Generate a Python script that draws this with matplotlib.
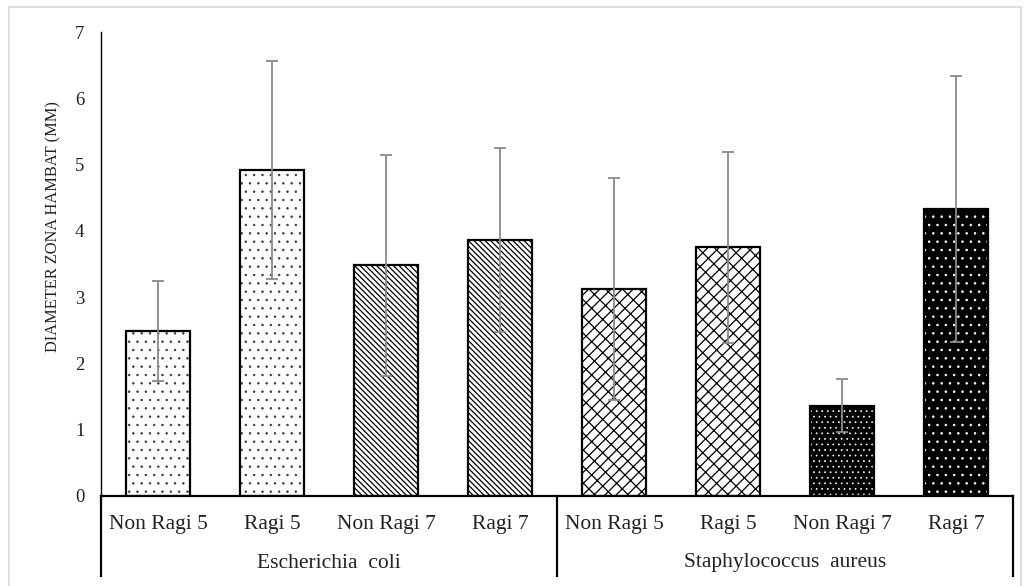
import matplotlib
matplotlib.use("Agg")
import matplotlib.pyplot as plt
import matplotlib.transforms as mtransforms
from matplotlib.lines import Line2D
import numpy as np

categories = ["Non Ragi 5", "Ragi 5", "Non Ragi 7", "Ragi 7",
              "Non Ragi 5", "Ragi 5", "Non Ragi 7", "Ragi 7"]
groups = ["Escherichia  coli", "Staphylococcus  aureus"]
values = [2.49, 4.92, 3.48, 3.86, 3.12, 3.75, 1.36, 4.33]
errors = [0.75, 1.64, 1.67, 1.39, 1.67, 1.44, 0.40, 2.01]
ylabel = "DIAMETER ZONA HAMBAT (MM)"

BS = chr(92)
hatches = ["..", "..", BS * 6, BS * 6, "/xx", "/xx", "...", ".."]
faces = ["white", "white", "white", "white", "white", "white", "black", "black"]
hatch_cols = ["#333333", "#333333", "black", "black", "black", "black", "white", "white"]
hatch_lws = [0.5, 0.5, 0.9, 0.9, 0.9, 0.9, 0.5, 0.6]

plt.rcParams['font.family'] = ['Liberation Serif', 'DejaVu Serif']

W, H = 1029, 586
fig = plt.figure(figsize=(W / 100, H / 100), dpi=100)

# light gray border
fig.add_artist(Line2D([9 / W, 9 / W], [0, 1 - 7 / H], color="#d9d9d9", lw=1.2))
fig.add_artist(Line2D([9 / W, 1021 / W], [1 - 7 / H, 1 - 7 / H], color="#d9d9d9", lw=1.2))
fig.add_artist(Line2D([1021 / W, 1021 / W], [0, 1 - 7 / H], color="#d9d9d9", lw=1.2))

ax_l, ax_r, ax_t, ax_b = 101, 1013, 32, 496
ax = fig.add_axes([ax_l / W, 1 - ax_b / H, (ax_r - ax_l) / W, (ax_b - ax_t) / H])

x = np.arange(len(values))
width = 0.57
for i in range(len(values)):
    plt.rcParams['hatch.linewidth'] = hatch_lws[i]
    b = ax.bar(x[i], values[i], width=width, color=faces[i], edgecolor=hatch_cols[i],
               hatch=hatches[i], linewidth=0, zorder=2)
    for p in b.patches:
        if hasattr(p, "set_hatch_linewidth"):
            p.set_hatch_linewidth(hatch_lws[i])
    ax.bar(x[i], values[i], width=width, facecolor="none", edgecolor="black",
           linewidth=1.6, zorder=3)

ax.errorbar(x, values, yerr=errors, fmt="none", ecolor="#8a8a8a",
            elinewidth=1.3, capsize=4.3, capthick=1.3, zorder=4)

ax.set_xlim(-0.5, len(values) - 0.5)
ax.set_ylim(0, 7)
ax.set_yticks(range(8))
ax.tick_params(axis="y", length=0, pad=12, labelsize=13.5, colors="#222222")
ax.set_xticks([])
for s in ["top", "right"]:
    ax.spines[s].set_visible(False)
ax.spines["left"].set_linewidth(1.0)
ax.spines["bottom"].set_linewidth(1.6)

trans = mtransforms.blended_transform_factory(ax.transData, ax.transAxes)
axh = ax_b - ax_t
cat_y = -(525 - ax_b) / axh
grp_y = -(563 - ax_b) / axh
line_bot = -(576 - ax_b) / axh
for i, c in enumerate(categories):
    ax.text(x[i], cat_y, c, transform=trans, ha="center", va="center",
            fontsize=15.5, color="#222222")
n_per = len(categories) // len(groups)
for g, name in enumerate(groups):
    cx = (g * n_per + (g + 1) * n_per - 1) / 2
    ax.text(cx, grp_y, name, transform=trans, ha="center", va="center",
            fontsize=15.5, color="#222222")
for xv in [-0.5, n_per - 0.5, len(categories) - 0.5]:
    ax.add_line(Line2D([xv, xv], [0, line_bot], transform=trans, color="black",
                       lw=1.6, clip_on=False))

fig.text(53 / W, 1 - 227 / H, ylabel, rotation=90, ha="center", va="center",
         fontsize=11.8, color="#222222")

fig.savefig("out.png", dpi=100)
